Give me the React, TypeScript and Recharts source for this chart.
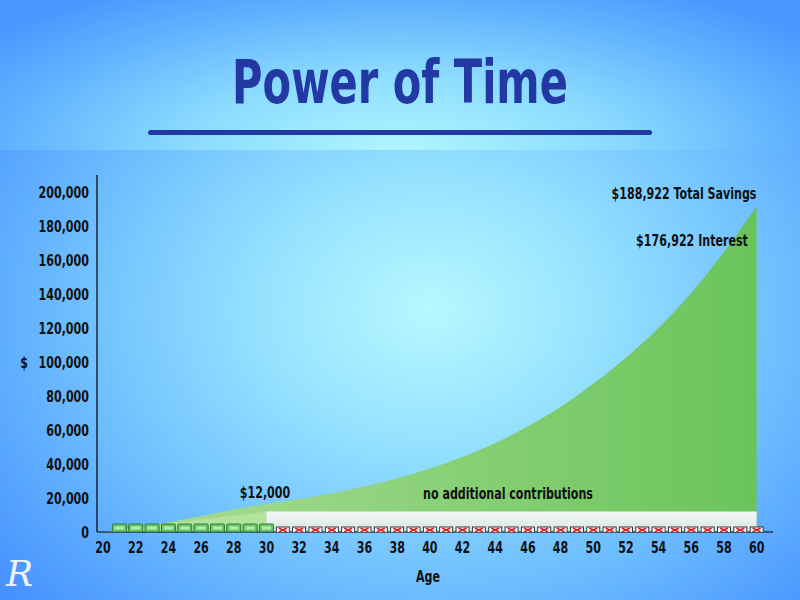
import { Area, ComposedChart, Scatter, XAxis, YAxis } from 'recharts';

const FONT = "'DejaVu Sans Condensed', 'DejaVu Sans', sans-serif";
// the reference uses a bold condensed face; squeeze DejaVu to match its widths
const SQUEEZE = 0.77;

// ages along the x axis
const ages = [
  20, 21, 22, 23, 24, 25, 26, 27, 28, 29, 30, 31, 32, 33, 34, 35, 36, 37, 38, 39, 40,
  41, 42, 43, 44, 45, 46, 47, 48, 49, 50, 51, 52, 53, 54, 55, 56, 57, 58, 59, 60,
];

// total savings
const totalSavings = [
  0, 1300, 2700, 4200, 5800, 7500, 9300, 11300, 13300, 15000, 16500, 17900, 19400, 21000,
  22800, 24700, 26800, 29100, 31600, 34300, 37300, 40600, 44200, 48100, 52400, 57100,
  62200, 67700, 73700, 80200, 87300, 94600, 102500, 111000, 120200, 130000, 140800,
  152400, 164900, 178000, 191500,
];

// cumulative contributions ($1,200 a year, ages 21-30)
const contributions = [
  0, 1200, 2400, 3600, 4800, 6000, 7200, 8400, 9600, 10800, 12000, 12000, 12000, 12000,
  12000, 12000, 12000, 12000, 12000, 12000, 12000, 12000, 12000, 12000, 12000, 12000,
  12000, 12000, 12000, 12000, 12000, 12000, 12000, 12000, 12000, 12000, 12000, 12000,
  12000, 12000, 12000,
];

const billAges = [21, 22, 23, 24, 25, 26, 27, 28, 29, 30];
const noContribAges = [
  31, 32, 33, 34, 35, 36, 37, 38, 39, 40, 41, 42, 43, 44, 45, 46, 47, 48, 49, 50,
  51, 52, 53, 54, 55, 56, 57, 58, 59, 60,
];

const xTicks = [20, 22, 24, 26, 28, 30, 32, 34, 36, 38, 40, 42, 44, 46, 48, 50, 52, 54, 56, 58, 60];
const yTicks = [0, 20000, 40000, 60000, 80000, 100000, 120000, 140000, 160000, 180000, 200000];

const data = ages.map((age, i) => ({
  age,
  total: totalSavings[i],
  early: age <= 30 ? contributions[i] : null,
  late: age >= 30 ? contributions[i] : null,
}));

const bills = billAges.map((age) => ({ age, base: 0 }));
const noContrib = noContribAges.map((age) => ({ age, base: 0 }));

function Bill(props: any) {
  const { cx, cy } = props;
  return (
    <g>
      <rect x={cx - 7} y={cy - 8} width={14} height={8} rx={1} fill="#6cc866" stroke="#2d7a33" strokeWidth={1} />
      <rect x={cx - 4.5} y={cy - 5.5} width={9} height={3} fill="#b4ecae" />
    </g>
  );
}

function CrossBox(props: any) {
  const { cx, cy } = props;
  return (
    <g>
      <rect x={cx - 6.5} y={cy - 5} width={13} height={6} fill="#ffffff" stroke="#222" strokeWidth={0.9} />
      <path
        d={`M${cx - 4} ${cy - 4}L${cx + 4} ${cy}M${cx + 4} ${cy - 4}L${cx - 4} ${cy}`}
        stroke="#e01e1e"
        strokeWidth={1.6}
      />
    </g>
  );
}

function XTick(props: any) {
  const { x, y, payload } = props;
  return (
    <text
      transform={`translate(${x},${y}) scale(${SQUEEZE},1)`}
      textAnchor="middle"
      dy="0.71em"
      fill="#111"
      fontSize={16}
      fontWeight={700}
      fontFamily={FONT}
    >
      {payload.value}
    </text>
  );
}

function YTick(props: any) {
  const { x, y, payload } = props;
  return (
    <text
      transform={`translate(${x},${y}) scale(${SQUEEZE},1)`}
      textAnchor="end"
      dy="0.355em"
      fill="#111"
      fontSize={16}
      fontWeight={700}
      fontFamily={FONT}
    >
      {Number(payload.value).toLocaleString('en-US')}
    </text>
  );
}

const textStyle = {
  position: 'absolute' as const,
  fontFamily: FONT,
  fontWeight: 700,
  fontSize: 16,
  color: '#111',
  whiteSpace: 'nowrap' as const,
  lineHeight: '16px',
};

function Note({ x, y, children }: { x: number; y: number; children: string }) {
  return (
    <div style={{ ...textStyle, left: x, top: y - 8, transform: `translateX(-50%) scaleX(${SQUEEZE})` }}>
      {children}
    </div>
  );
}

export default function App() {
  return (
    <div
      style={{
        position: 'absolute',
        left: 0,
        top: 0,
        width: 800,
        height: 600,
        overflow: 'hidden',
        background:
          'radial-gradient(ellipse 560px 440px at 430px 310px, #b8f8ff 0%, #96e2ff 30%, #6cbcff 65%, #4690ff 100%)',
      }}
    >
      <div
        style={{
          position: 'absolute',
          left: 0,
          top: 0,
          width: 800,
          height: 150,
          background:
            'radial-gradient(ellipse 520px 190px at 400px 150px, #b0f6ff 0%, #8cdcff 40%, #62b2ff 75%, #4896ff 100%)',
        }}
      />
      <div
        style={{
          position: 'absolute',
          left: 0,
          top: 52,
          width: 800,
          textAlign: 'center',
          fontFamily: FONT,
          fontWeight: 700,
          fontSize: 60,
          lineHeight: '60px',
          color: '#2238a2',
          transform: `scaleX(${SQUEEZE})`,
        }}
      >
        Power of Time
      </div>
      <div
        style={{
          position: 'absolute',
          left: 148,
          top: 130,
          width: 504,
          height: 5,
          borderRadius: 3,
          background: '#2238a2',
        }}
      />
      <div style={{ position: 'absolute', left: 0, top: 0 }}>
        <ComposedChart width={800} height={600} data={data} margin={{ top: 175, right: 27, bottom: 0, left: 0 }}>
          <defs>
            <linearGradient id="gTotal" x1="200" y1="0" x2="760" y2="0" gradientUnits="userSpaceOnUse">
              <stop offset="0" stopColor="#a2da8e" />
              <stop offset="1" stopColor="#6ac45a" />
            </linearGradient>
            <linearGradient id="gLate" x1="0" y1="0" x2="0" y2="1">
              <stop offset="0" stopColor="#f4f8f4" />
              <stop offset="1" stopColor="#d6e4e4" />
            </linearGradient>
          </defs>
          <XAxis
            type="number"
            dataKey="age"
            domain={[19.63, 61]}
            allowDataOverflow
            ticks={xTicks}
            interval={0}
            height={68}
            tickLine={false}
            tickMargin={4}
            axisLine={{ stroke: '#000', strokeWidth: 1.2 }}
            tick={XTick}
          />
          <YAxis
            type="number"
            domain={[0, 210000]}
            allowDataOverflow
            ticks={yTicks}
            interval={0}
            width={97}
            tickLine={false}
            axisLine={{ stroke: '#000', strokeWidth: 1.2 }}
            tick={YTick}
          />
          <Area
            type="monotone"
            dataKey="total"
            stroke="none"
            fill="url(#gTotal)"
            fillOpacity={1}
            dot={false}
            activeDot={false}
            isAnimationActive={false}
          />
          <Area
            type="linear"
            dataKey="early"
            stroke="none"
            fill="#b2e49e"
            fillOpacity={1}
            dot={false}
            activeDot={false}
            isAnimationActive={false}
          />
          <Area
            type="linear"
            dataKey="late"
            stroke="none"
            fill="url(#gLate)"
            fillOpacity={1}
            dot={false}
            activeDot={false}
            isAnimationActive={false}
          />
          <Scatter data={bills} dataKey="base" shape={Bill} isAnimationActive={false} />
          <Scatter data={noContrib} dataKey="base" shape={CrossBox} isAnimationActive={false} />
        </ComposedChart>
      </div>
      <Note x={265} y={493}>$12,000</Note>
      <Note x={508} y={494}>no additional contributions</Note>
      <Note x={684} y={194}>$188,922 Total Savings</Note>
      <Note x={692} y={241}>$176,922 Interest</Note>
      <Note x={24} y={363}>$</Note>
      <Note x={428} y={577}>Age</Note>
      <div
        style={{
          position: 'absolute',
          left: 6,
          top: 556,
          fontFamily: "'DejaVu Serif', serif",
          fontStyle: 'italic',
          fontSize: 36,
          lineHeight: '36px',
          color: '#ffffff',
          opacity: 0.9,
        }}
      >
        R
      </div>
    </div>
  );
}
